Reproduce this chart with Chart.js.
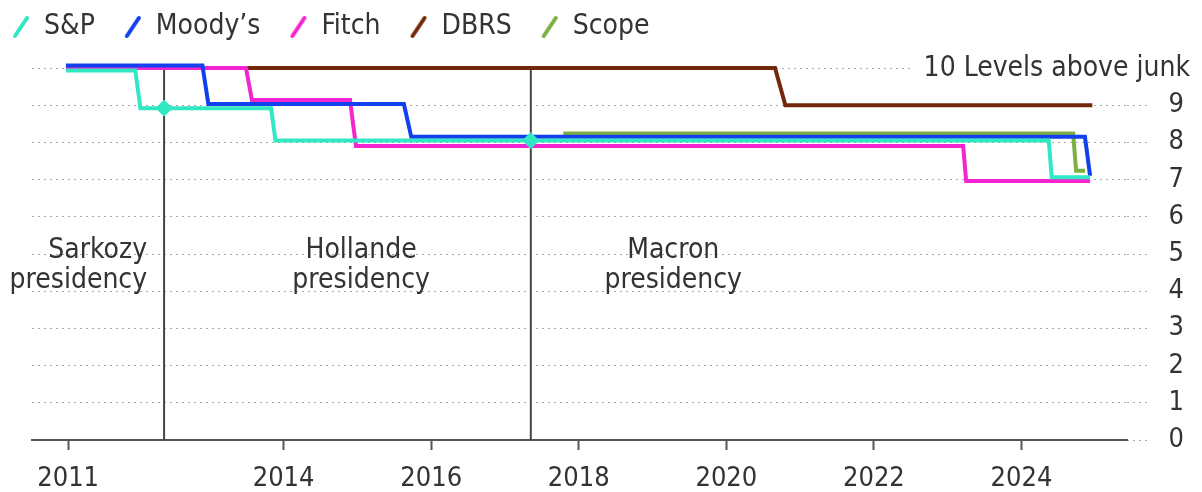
<!DOCTYPE html>
<html lang="en">
<head>
<meta charset="UTF-8">
<title>France sovereign ratings</title>
<style>
  html, body { margin: 0; padding: 0; background: #fff; }
  #wrap { width: 1202px; height: 492px; }
</style>
<script src="https://cdn.jsdelivr.net/npm/chart.js"></script>
</head>
<body>
<div id="wrap"><canvas id="ratingsChart"></canvas></div>
<script>
// levels above junk (small offsets keep overlapping lines visible)
const spYears = [2011.05, 2011.99, 2012.06, 2013.83, 2013.89, 2024.37, 2024.41, 2024.93];
const spLevels = [9.93, 9.93, 8.92, 8.92, 8.05, 8.05, 7.06, 7.06];

const moodysYears = [2011.05, 2012.90, 2012.98, 2015.63, 2015.73, 2024.86, 2024.93];
const moodysLevels = [10.07, 10.07, 9.03, 9.03, 8.15, 8.15, 7.1];

const fitchYears = [2011.05, 2013.49, 2013.57, 2014.90, 2014.98, 2023.21, 2023.25, 2024.93];
const fitchLevels = [10.0, 10.0, 9.14, 9.14, 7.9, 7.9, 6.96, 6.96];

const dbrsYears = [2011.05, 2020.66, 2020.80, 2024.96];
const dbrsLevels = [10.0, 10.0, 9.0, 9.0];

const scopeYears = [2017.79, 2024.70, 2024.74, 2024.86];
const scopeLevels = [8.24, 8.24, 7.24, 7.24];

// presidency changes and the S&P level marked on them
const presYears = [2012.38, 2017.35];
const markerLevels = [8.92, 8.05];

const presNames = [['Sarkozy', 'presidency'], ['Hollande', 'presidency'], ['Macron', 'presidency']];
const presLabelYears = [2012.15, 2015.05, 2019.28];
const presLabelLevels = [4.9, 4.09];

const tickYears = [2011.08, 2014, 2016, 2018, 2020, 2022, 2024];
const tickLabels = ['2011', '2014', '2016', '2018', '2020', '2022', '2024'];
const topLabel = '10 Levels above junk';

const FONT = 'DejaVu Sans Condensed';

function zip(xs, ys) {
    return xs.map((x, i) => ({ x: x, y: ys[i] }));
}

// slanted stroke used as legend symbol
function slash(color) {
    const c = document.createElement('canvas');
    c.width = 20;
    c.height = 26;
    const g = c.getContext('2d');
    g.strokeStyle = color;
    g.lineWidth = 4;
    g.lineCap = 'round';
    g.beginPath();
    g.moveTo(4, 22);
    g.lineTo(16, 4);
    g.stroke();
    return c;
}

function ratingLine(label, xs, ys, color, order) {
    return {
        label: label,
        data: zip(xs, ys),
        borderColor: color,
        backgroundColor: color,
        borderWidth: 4,
        pointRadius: 0,
        fill: false,
        clip: false,
        order: order,
        legendSymbol: slash(color)
    };
}

const datasets = [
    ratingLine('S&P', spYears, spLevels, '#30e8c4', 1),
    ratingLine('Moody\u2019s', moodysYears, moodysLevels, '#1240ee', 2),
    ratingLine('Fitch', fitchYears, fitchLevels, '#f424d0', 3),
    ratingLine('DBRS', dbrsYears, dbrsLevels, '#72290b', 4),
    ratingLine('Scope', scopeYears, scopeLevels, '#7cb040', 5)
];

presYears.forEach(function (yr) {
    datasets.push({
        label: 'president',
        data: [{ x: yr, y: 0 }, { x: yr, y: 10 }],
        borderColor: '#444',
        borderWidth: 2,
        pointRadius: 0,
        clip: false,
        order: 6
    });
});

datasets.push({
    label: 'marker',
    data: zip(presYears, markerLevels),
    showLine: false,
    pointStyle: 'rectRot',
    pointRadius: 8,
    pointBackgroundColor: '#30e8c4',
    pointBorderColor: '#30e8c4',
    pointBorderWidth: 1,
    clip: false,
    order: 0
});

// move the legend up/left to where the original has it
const legendShift = {
    id: 'legendShift',
    afterLayout(chart) {
        const lg = chart.legend;
        lg.left -= 17; lg.right -= 17;
        lg.top -= 17; lg.bottom -= 17;
    }
};

// "10 Levels above junk" sits over the top grid line, right aligned
const topAxisLabel = {
    id: 'topAxisLabel',
    beforeDatasetsDraw(chart) {
        const ctx = chart.ctx;
        const y = chart.scales.y.getPixelForValue(10);
        const right = 1190;
        ctx.save();
        ctx.font = '28px "' + FONT + '"';
        const w = ctx.measureText(topLabel).width;
        ctx.fillStyle = '#fff';
        ctx.fillRect(right - w - 12, y - 14, w + 12, 28);
        ctx.fillStyle = '#333';
        ctx.textAlign = 'right';
        ctx.textBaseline = 'middle';
        ctx.fillText(topLabel, right, y + 1);
        ctx.restore();
    }
};

const presLabels = {
    id: 'presLabels',
    afterDatasetsDraw(chart) {
        const ctx = chart.ctx;
        const xs = chart.scales.x, ys = chart.scales.y;
        ctx.save();
        ctx.font = '28px "' + FONT + '"';
        ctx.fillStyle = '#333';
        ctx.textBaseline = 'alphabetic';
        presNames.forEach(function (lines, i) {
            ctx.textAlign = i === 0 ? 'right' : 'center';
            lines.forEach(function (txt, j) {
                ctx.fillText(txt, xs.getPixelForValue(presLabelYears[i]), ys.getPixelForValue(presLabelLevels[j]));
            });
        });
        ctx.restore();
    }
};

const ctx = document.getElementById('ratingsChart').getContext('2d');
new Chart(ctx, {
    type: 'line',
    data: { datasets: datasets },
    plugins: [legendShift, topAxisLabel, presLabels],
    options: {
        responsive: true,
        maintainAspectRatio: false,
        animation: false,
        devicePixelRatio: 1,
        layout: { padding: { top: 1, right: 18, left: 0, bottom: 0 } },
        plugins: {
            tooltip: { enabled: false },
            legend: {
                position: 'top',
                align: 'start',
                labels: {
                    usePointStyle: true,
                    pointStyleWidth: 18,
                    padding: 29,
                    color: '#333',
                    font: { family: FONT, size: 28 },
                    filter: item => item.datasetIndex < 5,
                    generateLabels(chart) {
                        const items = Chart.defaults.plugins.legend.labels.generateLabels(chart);
                        items.forEach(it => {
                            const ds = chart.data.datasets[it.datasetIndex];
                            if (ds.legendSymbol) it.pointStyle = ds.legendSymbol;
                        });
                        return items;
                    }
                }
            }
        },
        scales: {
            x: {
                type: 'linear',
                min: 2010.59,
                max: 2025.43,
                afterBuildTicks: s => { s.ticks = tickYears.map(v => ({ value: v })); },
                afterFit: s => { s.height = 52; },
                ticks: {
                    autoSkip: false,
                    maxRotation: 0,
                    padding: 13,
                    color: '#333',
                    font: { family: FONT, size: 27 },
                    callback: (v, i) => tickLabels[i]
                },
                grid: {
                    drawOnChartArea: false,
                    drawTicks: true,
                    tickLength: 10,
                    tickColor: '#555',
                    tickWidth: 2
                },
                border: { color: '#555', width: 2 }
            },
            y: {
                type: 'linear',
                position: 'right',
                min: 0,
                max: 10,
                afterFit: s => { s.width = 57; },
                ticks: {
                    stepSize: 1,
                    crossAlign: 'far',
                    color: '#333',
                    font: { family: FONT, size: 27 },
                    callback: v => v === 10 ? '' : v
                },
                grid: {
                    color: c => c.tick && c.tick.value === 0 ? 'rgba(0,0,0,0)' : '#a8a8a8',
                    tickColor: '#a8a8a8',
                    lineWidth: 1,
                    tickBorderDash: [2, 4],
                    tickLength: 20
                },
                border: { display: false, dash: [2, 4] }
            },
            left: {
                type: 'linear',
                position: 'left',
                display: true,
                afterFit: s => { s.width = 32; },
                ticks: { display: false },
                grid: { display: false },
                border: { display: false }
            }
        }
    }
});
</script>
</body>
</html>
